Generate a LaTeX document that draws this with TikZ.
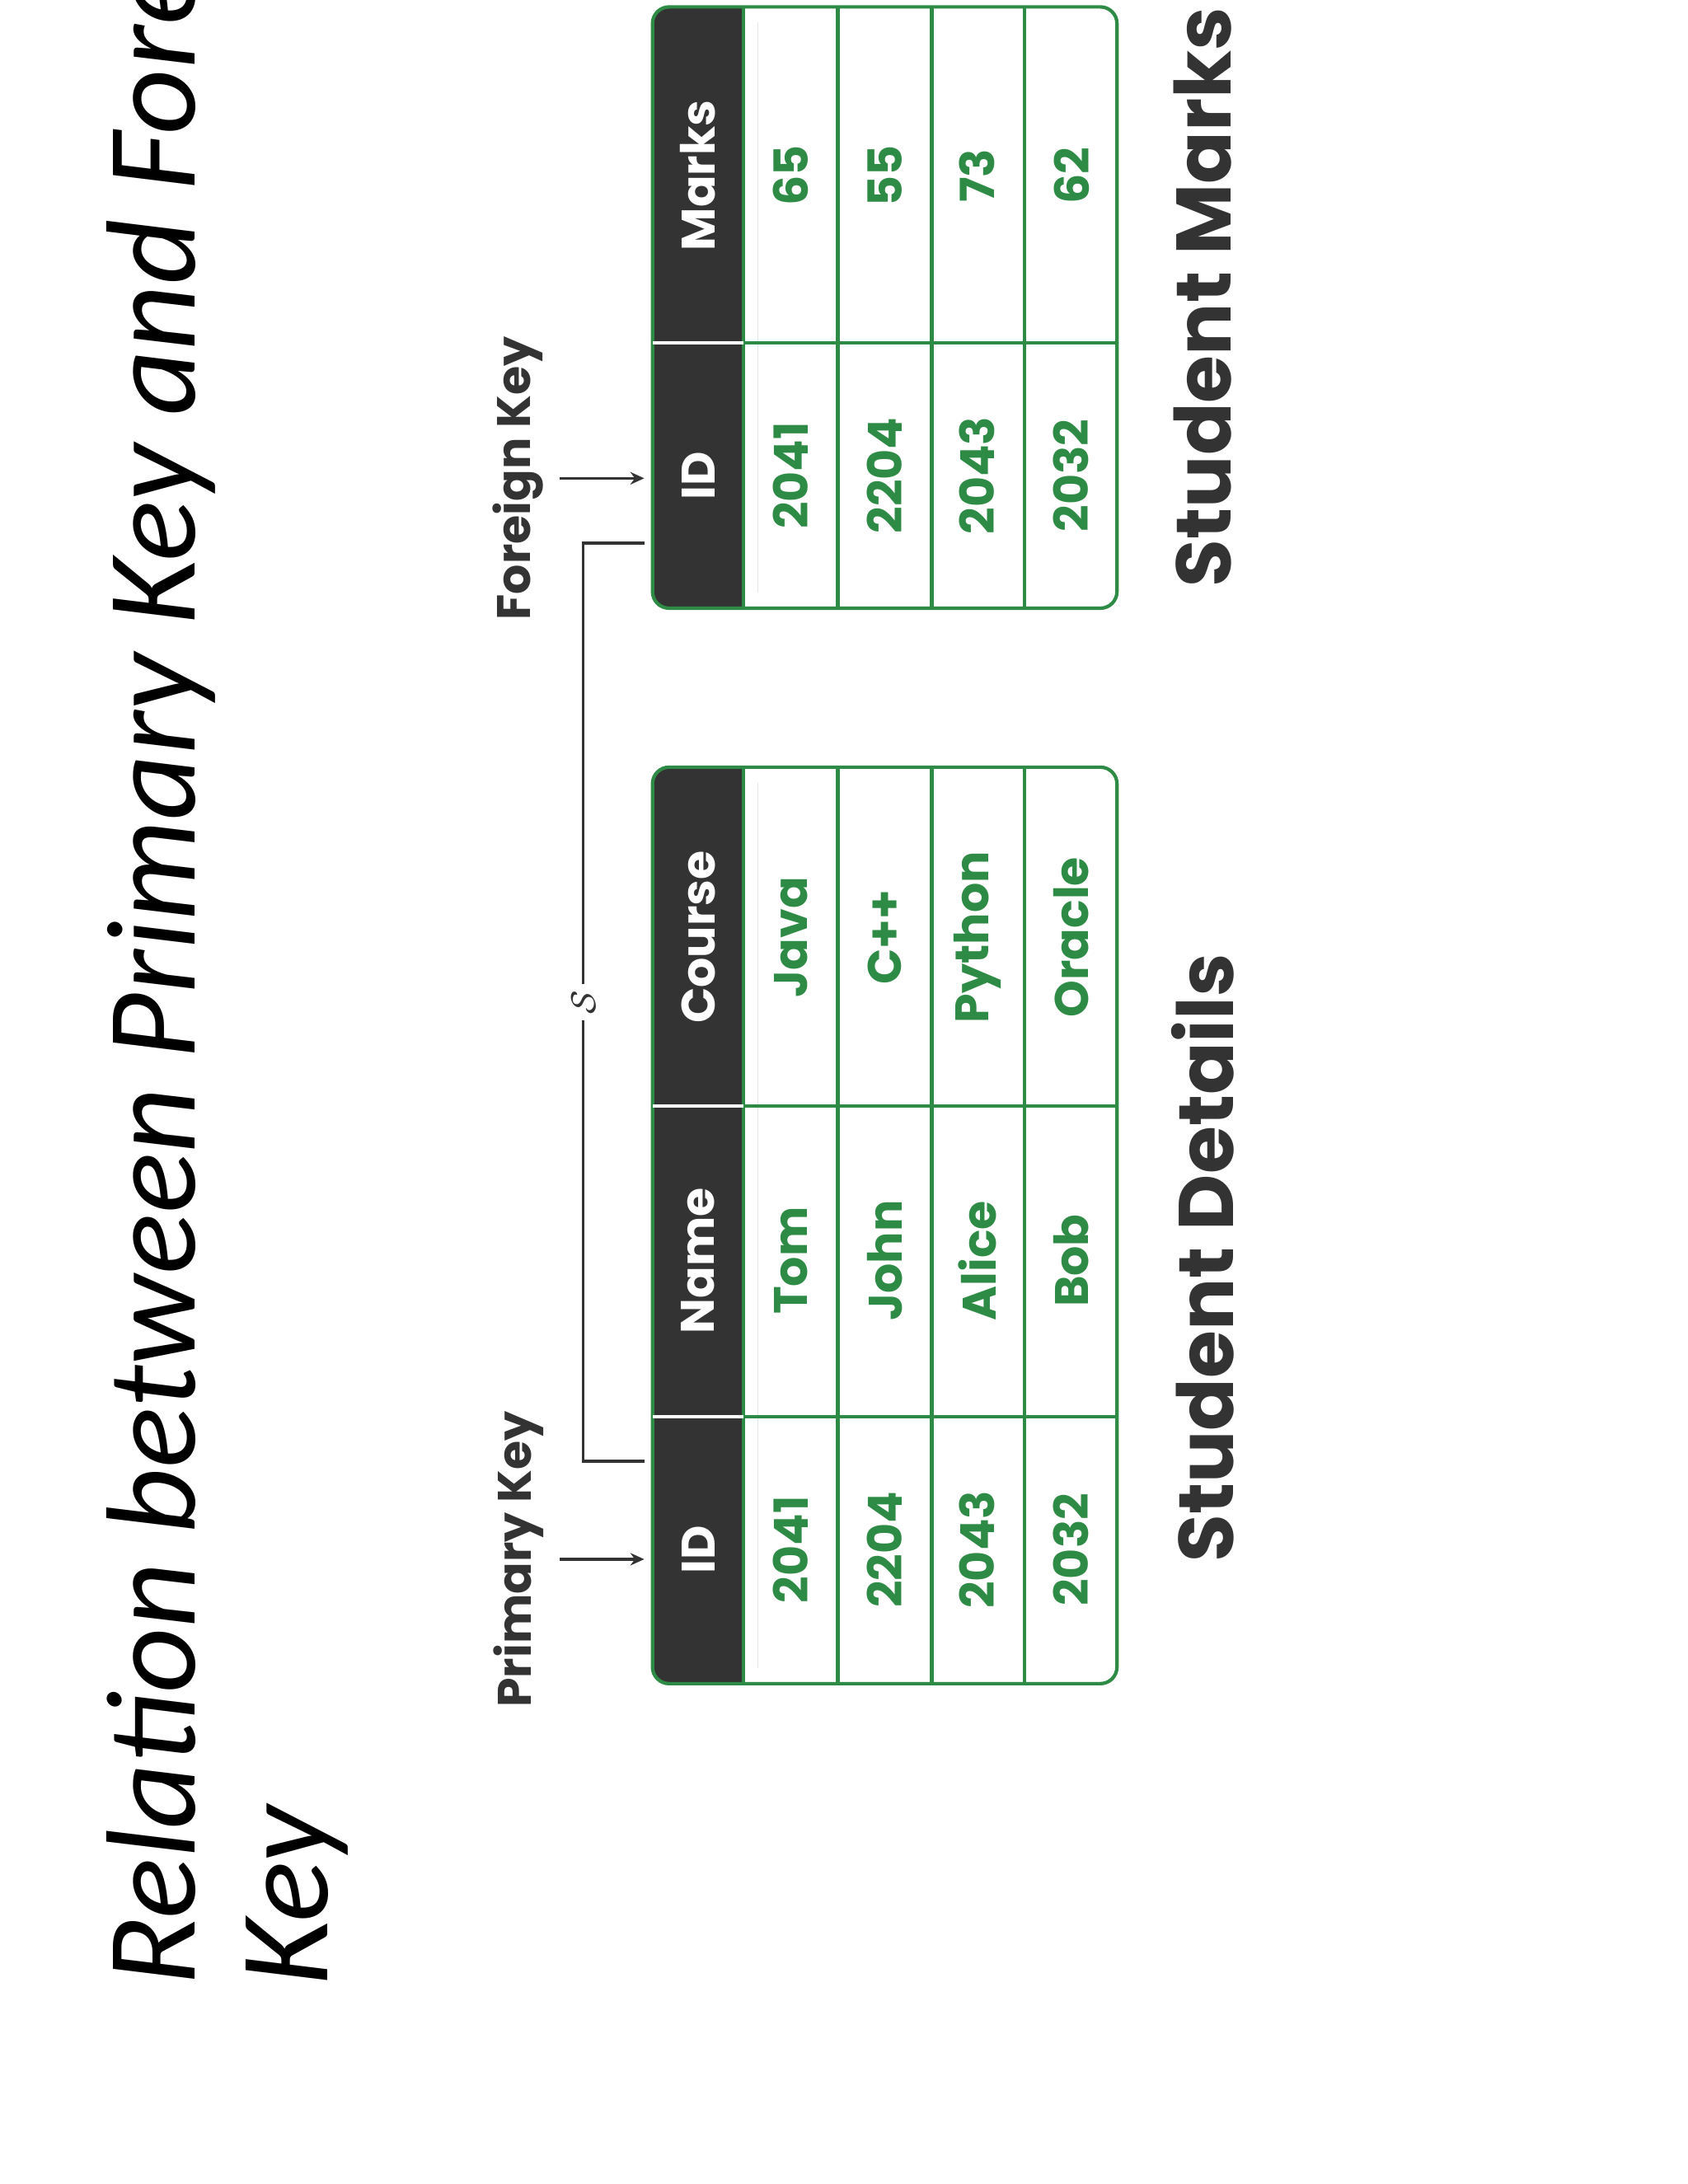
\documentclass[tikz,border=0pt]{standalone}
\usepackage{fontspec}
\setmainfont{Poppins}
\newfontfamily\titlefont{Carlito}
\usetikzlibrary{arrows.meta}
\definecolor{gr}{HTML}{2E8B45}
\definecolor{dk}{HTML}{333333}
\tikzset{
 hdr/.style={rotate=90,text=white,font=\fontsize{34}{38}\selectfont\bfseries},
 cell/.style={rotate=90,text=gr,font=\fontsize{34}{38}\selectfont\bfseries},
 keylab/.style={rotate=90,text=dk,font=\fontsize{34}{38}\selectfont\bfseries},
 ttl/.style={rotate=90,text=dk,font=\fontsize{56}{60}\selectfont\bfseries},
 gline/.style={draw=gr,line width=2.5pt},
 conn/.style={draw=dk,line width=2pt},
}
\begin{document}
\begin{tikzpicture}[x=1pt,y=-1pt]
\useasboundingbox[fill=white] (0,0) rectangle (1221,1580);
% title
\node[rotate=90,anchor=south west,font=\titlefont\itshape\fontsize{92}{96}\selectfont,inner sep=0] (t1) at (157,1437) {Relation between Primary Key and Foreign};
\node[rotate=90,anchor=south west,font=\titlefont\itshape\fontsize{92}{96}\selectfont,inner sep=0] (t2) at (252,1437) {Key};
% table 1
\fill[dk,rounded corners=12] (472,555) rectangle (548,1218);
\fill[white] (538,555) rectangle (548,1218);
\draw[gline,rounded corners=12] (472,555) rectangle (808,1218);
\foreach \x in {538,606,674,741} \draw[gline] (\x,555) -- (\x,1218);
\foreach \y in {800,1025} \draw[gline] (538,\y) -- (808,\y);
\draw[white,line width=2.5pt] (472,800)--(538,800) (472,1025)--(538,1025);
\node[hdr] (h1) at (505,1121) {ID};
\node[hdr] (h2) at (505,912) {Name};
\node[hdr] (h3) at (505,678) {Course};
\foreach \x/\a/\b/\c in {572/2041/Tom/Java,640/2204/John/C++,707/2043/Alice/Python,775/2032/Bob/Oracle}{
 \node[cell] at (\x,1121) {\a};
 \node[cell] at (\x,912) {\b};
 \node[cell] at (\x,678) {\c};}
% table 2
\fill[dk,rounded corners=12] (472,5) rectangle (548,440);
\fill[white] (538,5) rectangle (548,440);
\draw[gline,rounded corners=12] (472,5) rectangle (808,440);
\foreach \x in {538,606,674,741} \draw[gline] (\x,5) -- (\x,440);
\draw[gline] (538,248) -- (808,248);
\draw[white,line width=2.5pt] (472,248)--(538,248);
\node[hdr] (m1) at (505,344) {ID};
\node[hdr] (m2) at (505,127) {Marks};
\foreach \x/\a/\b in {572/2041/65,640/2204/55,707/2043/73,775/2032/62}{
 \node[cell] at (\x,344) {\a};
 \node[cell] at (\x,127) {\b};}
% key labels and arrows
\node[keylab] (pk) at (375,1128) {Primary Key};
\node[keylab] (fk) at (375,346) {Foreign Key};
\coordinate (pa) at (405,1128); \coordinate (pb) at (466,1128);
\coordinate (fa) at (405,346); \coordinate (fb) at (466,346);
\draw[conn,-{Stealth[length=10pt,width=9pt]}] (pa) -- (pb);
\draw[conn,-{Stealth[length=10pt,width=9pt]}] (fa) -- (fb);
\coordinate (c1) at (466,1057); \coordinate (c2) at (466,393);
\coordinate (lk) at (422,725);
\draw[conn] (c1) -- (422,1057) -- (422,738);
\draw[conn] (422,712) -- (422,393) -- (c2);
\node[rotate=90,text=dk,font=\fontsize{24}{24}\selectfont\bfseries] (link) at (lk) {$\mathcal{S}$};
% table titles
\node[ttl] (s1) at (870,910) {Student Details};
\node[ttl] (s2) at (870,215) {Student Marks};
\end{tikzpicture}
\end{document}
